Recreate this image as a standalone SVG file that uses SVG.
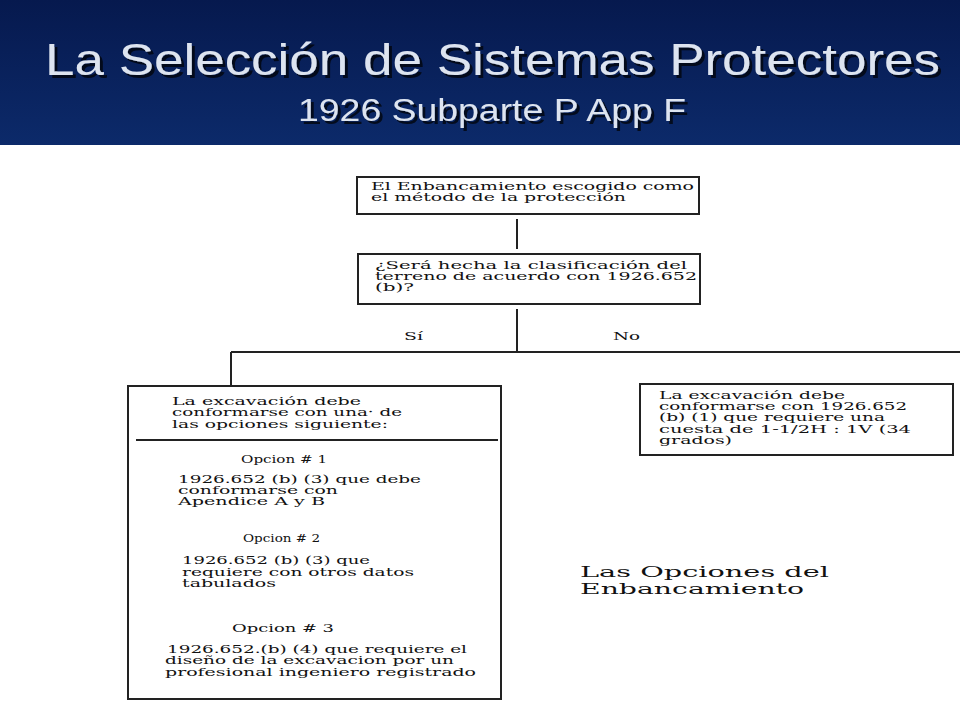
<svg xmlns="http://www.w3.org/2000/svg" width="960" height="720" viewBox="0 0 960 720">
<style>
.b{fill:#fff;stroke:#222;stroke-width:2}
.c{stroke:#222;stroke-width:2;fill:none}
text.t{font-family:"DejaVu Serif","Liberation Serif",serif;font-size:10.5px;fill:#111}
text.h{font-family:"Liberation Sans",Arial,sans-serif;fill:#dde4f0}
</style>
<defs>
<linearGradient id="g" x1="0" y1="0" x2="0" y2="1"><stop offset="0" stop-color="#06194e"/><stop offset="1" stop-color="#0c2a6a"/></linearGradient>
<filter id="s" x="-5%" y="-20%" width="110%" height="140%"><feDropShadow dx="3" dy="3" stdDeviation="0.5" flood-color="#000" flood-opacity="0.7"/></filter>
</defs>
<rect width="960" height="720" fill="#fff"/>
<rect width="960" height="145" fill="url(#g)"/>
<g filter="url(#s)">
<text class="h" x="45" y="75" font-size="44" textLength="895" lengthAdjust="spacingAndGlyphs">La Selección de Sistemas Protectores</text>
<text class="h" x="298" y="121" font-size="31" textLength="388" lengthAdjust="spacingAndGlyphs">1926 Subparte P App F</text>
</g>

<g id="connectors">
<path class="c" d="M517 219V249M517 309V352M231 352H960M231 352V386"/>
<text class="t" x="404" y="340" textLength="19" lengthAdjust="spacingAndGlyphs">Sí</text>
<text class="t" x="613" y="340" textLength="27" lengthAdjust="spacingAndGlyphs">No</text>
</g>

<g id="n1">
<rect class="b" x="357" y="177" width="342" height="37"/>
<text class="t" x="371" y="190" textLength="323" lengthAdjust="spacingAndGlyphs">El Enbancamiento escogido como</text>
<text class="t" x="371" y="201" textLength="255" lengthAdjust="spacingAndGlyphs">el método de la protección</text>
</g>

<g id="n2">
<rect class="b" x="358" y="254" width="342" height="50"/>
<text class="t" x="375" y="269" textLength="312" lengthAdjust="spacingAndGlyphs">¿Será hecha la clasificación del</text>
<text class="t" x="375" y="280" textLength="322" lengthAdjust="spacingAndGlyphs">terreno de acuerdo con 1926.652</text>
<text class="t" x="375" y="291" textLength="39" lengthAdjust="spacingAndGlyphs">(b)?</text>
</g>

<g id="n3">
<rect class="b" x="128" y="386" width="373" height="313"/>
<text class="t" x="172" y="405" textLength="189" lengthAdjust="spacingAndGlyphs">La excavación debe</text>
<text class="t" x="172" y="416" textLength="230" lengthAdjust="spacingAndGlyphs">conformarse con una· de</text>
<text class="t" x="172" y="428" textLength="216" lengthAdjust="spacingAndGlyphs">las opciones siguiente:</text>
<line class="c" x1="136" y1="440" x2="498" y2="440" stroke-width="1.5"/>
<text class="t" x="241" y="463" textLength="86" lengthAdjust="spacingAndGlyphs">Opcion # 1</text>
<text class="t" x="178" y="483" textLength="243" lengthAdjust="spacingAndGlyphs">1926.652 (b) (3) que debe</text>
<text class="t" x="178" y="494" textLength="160" lengthAdjust="spacingAndGlyphs">conformarse con</text>
<text class="t" x="178" y="505" textLength="147" lengthAdjust="spacingAndGlyphs">Apendice A y B</text>
<text class="t" x="243" y="542" textLength="77" lengthAdjust="spacingAndGlyphs">Opcion # 2</text>
<text class="t" x="182" y="564" textLength="188" lengthAdjust="spacingAndGlyphs">1926.652 (b) (3) que</text>
<text class="t" x="182" y="576" textLength="232" lengthAdjust="spacingAndGlyphs">requiere con otros datos</text>
<text class="t" x="182" y="587" textLength="94" lengthAdjust="spacingAndGlyphs">tabulados</text>
<text class="t" x="232" y="632" textLength="102" lengthAdjust="spacingAndGlyphs">Opcion # 3</text>
<text class="t" x="167" y="653" textLength="300" lengthAdjust="spacingAndGlyphs">1926.652.(b) (4) que requiere el</text>
<text class="t" x="165" y="664" textLength="289" lengthAdjust="spacingAndGlyphs">diseño de la excavacion por un</text>
<text class="t" x="165" y="676" textLength="311" lengthAdjust="spacingAndGlyphs">profesional ingeniero registrado</text>
</g>

<g id="n4">
<rect class="b" x="640" y="384" width="313" height="71"/>
<text class="t" x="659" y="399" textLength="186" lengthAdjust="spacingAndGlyphs">La excavación debe</text>
<text class="t" x="659" y="410" textLength="248" lengthAdjust="spacingAndGlyphs">conformarse con 1926.652</text>
<text class="t" x="659" y="421" textLength="226" lengthAdjust="spacingAndGlyphs">(b) (1) que requiere una</text>
<text class="t" x="659" y="433" textLength="252" lengthAdjust="spacingAndGlyphs">cuesta de 1-1/2H : 1V  (34</text>
<text class="t" x="659" y="444" textLength="73" lengthAdjust="spacingAndGlyphs">grados)</text>
</g>

<g id="caption">
<text class="t" x="580" y="577" style="font-size:14px" textLength="249" lengthAdjust="spacingAndGlyphs">Las Opciones del</text>
<text class="t" x="580" y="594" style="font-size:14px" textLength="224" lengthAdjust="spacingAndGlyphs">Enbancamiento</text>
</g>
</svg>
